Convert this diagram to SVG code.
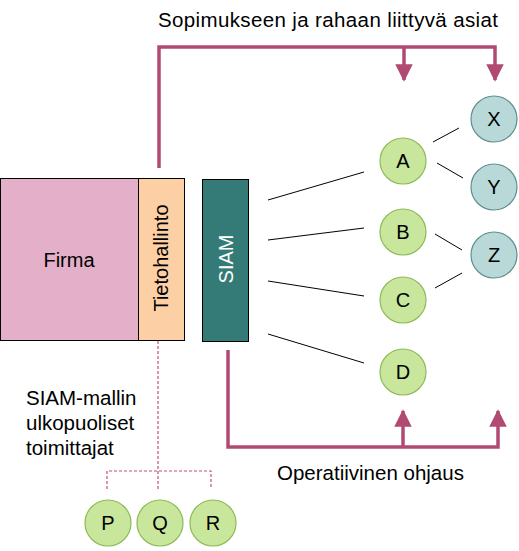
<svg xmlns="http://www.w3.org/2000/svg" width="519" height="551" viewBox="0 0 519 551">
<defs>
<style>
text{font-family:"Liberation Sans",Arial,sans-serif;font-size:20.5px;fill:#000}
.g{fill:#C9E79C;stroke:#8CBB57;stroke-width:1.2}
.b{fill:#B9D9D9;stroke:#5F8E8E;stroke-width:1.2}
.ln{stroke:#000;stroke-width:1;fill:none}
.pk{stroke:#B04A73;stroke-width:3.5;fill:none}
.ds{stroke:#C0507A;stroke-width:1.2;stroke-dasharray:3,2;fill:none}
.c{text-anchor:middle}
.n{font-size:20px}
</style>
<marker id="ah" markerWidth="5" markerHeight="5" refX="4.5" refY="2.5" orient="auto" markerUnits="strokeWidth">
<path d="M0,0 L5,2.5 L0,5 Z" fill="#B04A73"/>
</marker>
</defs>
<text x="158" y="27" textLength="340">Sopimukseen  ja rahaan liittyvä asiat</text>
<g id="connectors">
<path class="pk" d="M159,168 V47 H495 V80" marker-end="url(#ah)"/>
<path class="pk" d="M404,47 V80" marker-end="url(#ah)"/>
<path class="pk" d="M228,350 V447 H498 V411" marker-end="url(#ah)"/>
<path class="pk" d="M403,447 V411" marker-end="url(#ah)"/>
<line class="ln" x1="268" y1="200" x2="364" y2="172"/>
<line class="ln" x1="268" y1="240" x2="364" y2="228"/>
<line class="ln" x1="268" y1="281" x2="364" y2="296"/>
<line class="ln" x1="268" y1="334" x2="364" y2="363"/>
<line class="ln" x1="433" y1="142" x2="459" y2="128"/>
<line class="ln" x1="437" y1="163" x2="463" y2="178"/>
<line class="ln" x1="435" y1="234" x2="462" y2="250"/>
<line class="ln" x1="435" y1="288" x2="462" y2="273"/>
<path class="ds" d="M158,341 V489 M107,489 V471 H211 V489"/>
</g>
<g id="firma">
<rect x="0.5" y="178.5" width="138" height="162" fill="#E4B0C9" stroke="#000" stroke-width="1"/>
<text x="69" y="267" class="c n">Firma</text>
</g>
<g id="tietohallinto">
<rect x="138.5" y="178.5" width="46" height="162" fill="#FDCFA4" stroke="#000" stroke-width="1"/>
<text transform="translate(168,258) rotate(-90)" class="c n">Tietohallinto</text>
</g>
<g id="siam">
<rect x="202.5" y="179.5" width="46" height="162" fill="#347B78" stroke="#000" stroke-width="1"/>
<text transform="translate(233,259) rotate(-90)" class="c n" style="fill:#fff">SIAM</text>
</g>
<g id="A"><circle class="g" cx="403" cy="161" r="23"/><text x="403" y="168" class="c n">A</text></g>
<g id="B"><circle class="g" cx="403" cy="232" r="23"/><text x="403" y="239" class="c n">B</text></g>
<g id="C"><circle class="g" cx="403" cy="300" r="23"/><text x="403" y="307" class="c n">C</text></g>
<g id="D"><circle class="g" cx="403" cy="372" r="23"/><text x="403" y="379" class="c n">D</text></g>
<g id="X"><circle class="b" cx="494" cy="119" r="23"/><text x="494" y="126" class="c n">X</text></g>
<g id="Y"><circle class="b" cx="494" cy="187" r="23"/><text x="494" y="194" class="c n">Y</text></g>
<g id="Z"><circle class="b" cx="494" cy="255" r="23"/><text x="494" y="262" class="c n">Z</text></g>
<g id="P"><circle class="g" cx="108" cy="523" r="23"/><text x="108" y="530" class="c n">P</text></g>
<g id="Q"><circle class="g" cx="160" cy="523" r="23"/><text x="160" y="530" class="c n">Q</text></g>
<g id="R"><circle class="g" cx="213" cy="523" r="23"/><text x="213" y="530" class="c n">R</text></g>
<text x="26" y="405">SIAM-mallin</text>
<text x="26" y="430">ulkopuoliset</text>
<text x="26" y="455">toimittajat</text>
<text x="277" y="480">Operatiivinen ohjaus</text>
</svg>
